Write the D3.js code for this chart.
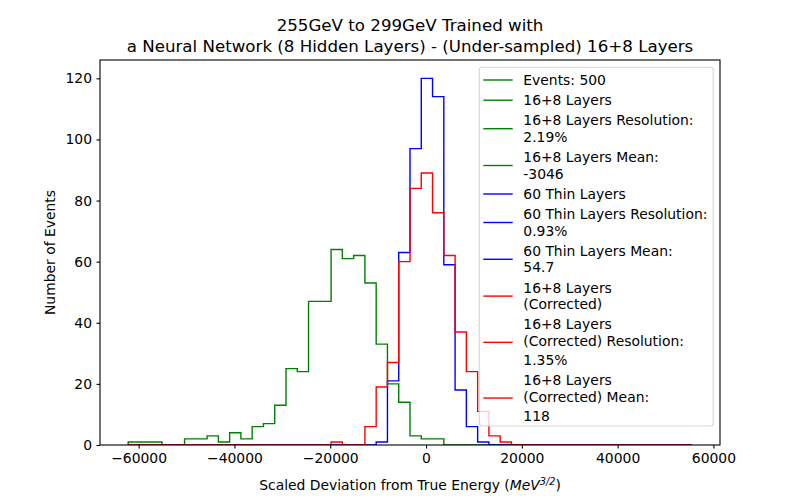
<!DOCTYPE html>
<html>
<head>
<meta charset="utf-8">
<script src="https://cdn.jsdelivr.net/npm/d3@7"></script>
<style>
  body { margin: 0; background: #fff; }
  svg { font-family: "DejaVu Sans", sans-serif; }
</style>
</head>
<body>
<svg id="chart" width="800" height="500"></svg>
<script>
"use strict";

// Histogram range and binning
var histMin = -62180;
var histMax = 55490;
var nBins = 50;

// Counts per bin, 50 bins each
var green = [1, 1, 1, 0, 0, 2, 2, 3, 1, 4, 2, 6, 7, 13, 25, 24, 47, 47, 64, 61,
             62, 53, 33, 20, 14, 3, 2, 2, 0, 0, 0, 0, 0, 0, 0, 0, 0, 0, 0, 0,
             0, 0, 0, 0, 0, 0, 0, 0, 0, 0];
var blue = [0, 0, 0, 0, 0, 0, 0, 0, 0, 0, 0, 0, 0, 0, 0, 0, 0, 0, 0, 0,
            0, 0, 1, 21, 63, 97, 120, 114, 59, 18, 6, 1, 0, 0, 0, 0, 0, 0, 0, 0,
            0, 0, 0, 0, 0, 0, 0, 0, 0, 0];
var red = [0, 0, 0, 0, 0, 0, 0, 0, 0, 0, 0, 0, 0, 0, 0, 0, 0, 0, 1, 0,
           0, 6, 19, 27, 60, 84, 89, 76, 62, 37, 24, 11, 3, 1, 0, 0, 0, 0, 0, 0,
           0, 0, 0, 0, 0, 0, 0, 0, 0, 0];

var seriesColors = ["green", "blue", "red"];

var xTicks = [-60000, -40000, -20000, 0, 20000, 40000, 60000];
var yTicks = [0, 20, 40, 60, 80, 100, 120];

var titleLines = ["255GeV to 299GeV Trained with",
                  "a Neural Network (8 Hidden Layers) - (Under-sampled) 16+8 Layers"];

var legendLabels = [
    "Events: 500",
    "16+8 Layers",
    "16+8 Layers Resolution:\n2.19%",
    "16+8 Layers Mean:\n-3046",
    "60 Thin Layers",
    "60 Thin Layers Resolution:\n0.93%",
    "60 Thin Layers Mean:\n54.7",
    "16+8 Layers\n(Corrected)",
    "16+8 Layers\n(Corrected) Resolution:\n1.35%",
    "16+8 Layers\n(Corrected) Mean:\n118"
];
var legendColors = ["green", "green", "green", "green", "blue", "blue", "blue", "red", "red", "red"];

// Figure layout, matplotlib defaults for an 8x5 inch figure
var margin = { left: 100, right: 80, top: 60, bottom: 55 };
var width = 800, height = 500;
var plotW = width - margin.left - margin.right;
var plotH = height - margin.top - margin.bottom;

var svg = d3.select("#chart");

var binW = (histMax - histMin) / nBins;
var edges = d3.range(nBins + 1).map(function(i) { return histMin + i * binW; });
var pad = 0.05 * (histMax - histMin);

var x = d3.scaleLinear()
    .domain([histMin - pad, histMax + pad])
    .range([margin.left, margin.left + plotW]);

var y = d3.scaleLinear()
    .domain([0, d3.max([d3.max(green), d3.max(blue), d3.max(red)]) * 1.05])
    .range([margin.top + plotH, margin.top]);

// step outline of a histogram like histtype='step'
function stepPoints(counts) {
    var pts = [[edges[0], 0]];
    counts.forEach(function(c, i) {
        pts.push([edges[i], c]);
        pts.push([edges[i + 1], c]);
    });
    pts.push([edges[nBins], 0]);
    return pts;
}

var line = d3.line()
    .x(function(d) { return x(d[0]); })
    .y(function(d) { return y(d[1]); });

var plot = svg.append("g");
plot.append("clipPath").attr("id", "clip")
    .append("rect")
    .attr("x", margin.left).attr("y", margin.top)
    .attr("width", plotW).attr("height", plotH);

[green, blue, red].forEach(function(counts, i) {
    plot.append("path")
        .attr("clip-path", "url(#clip)")
        .attr("d", line(stepPoints(counts)))
        .attr("fill", "none")
        .attr("stroke", seriesColors[i])
        .attr("stroke-width", 1.4)
        .attr("stroke-linejoin", "miter");
});

// Axes
var fmt = function(d) { return d < 0 ? "\u2212" + Math.abs(d) : String(d); };

var xAxis = svg.append("g")
    .attr("transform", "translate(0," + (margin.top + plotH) + ")")
    .call(d3.axisBottom(x).tickValues(xTicks).tickFormat(fmt).tickSize(3.5).tickPadding(4.5));
var yAxis = svg.append("g")
    .attr("transform", "translate(" + margin.left + ",0)")
    .call(d3.axisLeft(y).tickValues(yTicks).tickSize(3.5).tickPadding(4.5));

[xAxis, yAxis].forEach(function(ax) {
    ax.select(".domain").remove();
    ax.selectAll("line").attr("stroke", "#000").attr("stroke-width", 1.1);
    ax.selectAll("text")
        .attr("fill", "#000")
        .style("font-size", "13.9px")
        .style("font-family", "DejaVu Sans");
});

// Frame (spines)
svg.append("rect")
    .attr("x", margin.left).attr("y", margin.top)
    .attr("width", plotW).attr("height", plotH)
    .attr("fill", "none")
    .attr("stroke", "#000")
    .attr("stroke-width", 1.1);

// Titles and labels
svg.append("g").selectAll("text")
    .data(titleLines)
    .enter().append("text")
    .attr("x", margin.left + plotW / 2)
    .attr("y", function(d, i) { return 31 + i * 20.5; })
    .attr("text-anchor", "middle")
    .style("font-size", "16.67px")
    .text(function(d) { return d; });

var xl = svg.append("text")
    .attr("x", margin.left + plotW / 2)
    .attr("y", 490)
    .attr("text-anchor", "middle")
    .style("font-size", "13.9px");
xl.append("tspan").text("Scaled Deviation from True Energy (");
xl.append("tspan").attr("font-style", "italic").text("MeV");
xl.append("tspan").attr("dy", -5).style("font-size", "9.7px").attr("font-style", "italic").text("3/2");
xl.append("tspan").attr("dy", 5).text(")");

svg.append("text")
    .attr("transform", "translate(54.5," + (margin.top + plotH / 2) + ") rotate(-90)")
    .attr("text-anchor", "middle")
    .style("font-size", "13.9px")
    .text("Number of Events");

// Legend
var legend = svg.append("g");
legend.append("rect")
    .attr("x", 479.3).attr("y", 67.3)
    .attr("width", 234).attr("height", 358.7)
    .attr("rx", 3)
    .attr("fill", "#fff").attr("fill-opacity", 0.8)
    .attr("stroke", "#ccc").attr("stroke-opacity", 0.8)
    .attr("stroke-width", 1.1);

var lineGap = 16.6, entryGap = 20.2, parenExtra = 2.3;
var cy = 80;
legendLabels.forEach(function(label, i) {
    var lines = label.split("\n");
    var ys = [];
    lines.forEach(function(l, j) {
        if (j > 0) {
            cy += lineGap + (lines[j - 1].indexOf("(") >= 0 ? parenExtra : 0);
        }
        ys.push(cy);
    });
    var handleY = (ys[0] + ys[ys.length - 1]) / 2;
    legend.append("line")
        .attr("x1", 483.3).attr("x2", 512.7)
        .attr("y1", handleY).attr("y2", handleY)
        .attr("stroke", legendColors[i])
        .attr("stroke-width", 1.4);
    lines.forEach(function(l, j) {
        legend.append("text")
            .attr("x", 523.3)
            .attr("y", ys[j])
            .attr("dy", ".35em")
            .style("font-size", "13.9px")
            .text(l);
    });
    cy += entryGap;
});
</script>
</body>
</html>
